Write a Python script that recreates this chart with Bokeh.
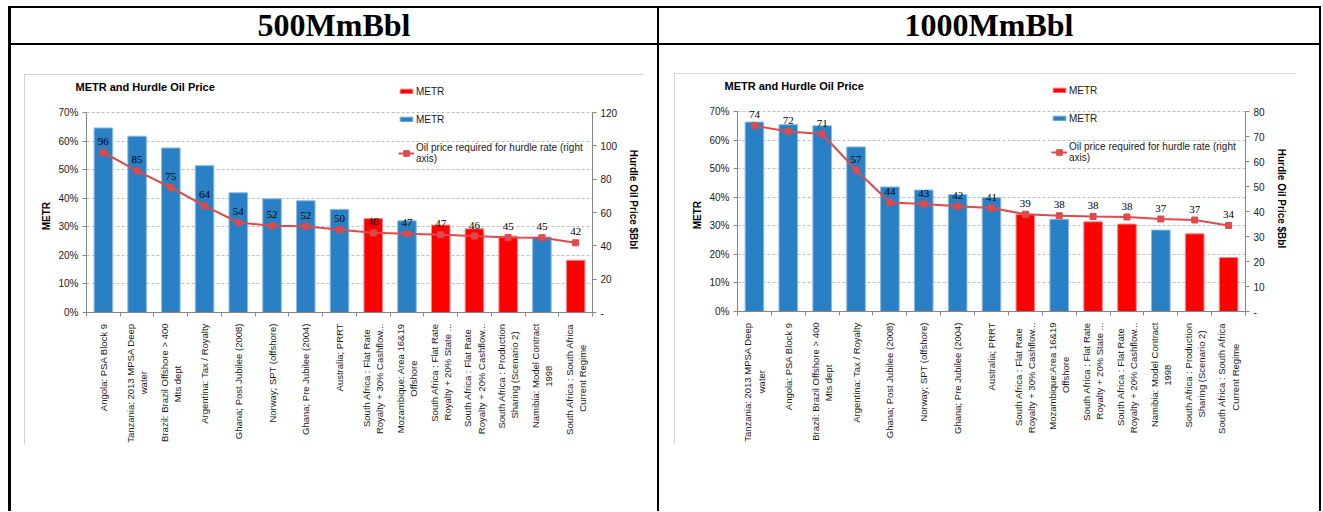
import math
from bokeh.plotting import figure
from bokeh.models import (ColumnDataSource, Range1d, FactorRange, LinearAxis, FixedTicker,
                          NumeralTickFormatter, Legend, LegendItem, LabelSet, Label, Div, Spacer,
                          CustomLabelingPolicy)
from bokeh.layouts import row, column
from bokeh.embed import file_html
from bokeh.resources import INLINE

# ---------------- data ----------------
headers = ["500MmBbl", "1000MmBbl"]
chart_title = "METR and Hurdle Oil Price"
series_bar = "METR"
series_line = "Oil price required for hurdle rate (right\naxis)"
left_axis_title = "METR"
right_axis_title = "Hurdle Oil Price $Bbl"

labels_500 = [
    "Angola: PSA Block 9",
    "Tanzania: 2013 MPSA Deep\nwater",
    "Brazil: Brazil Offshore > 400\nMts dept",
    "Argentina: Tax / Royalty",
    "Ghana; Post Jubilee (2008)",
    "Norway; SPT (offshore)",
    "Ghana; Pre Jubilee (2004)",
    "Australia; PRRT",
    "South Africa : Flat Rate\nRoyalty + 30% Cashflow...",
    "Mozambique: Area 16&19\nOffshore",
    "South Africa : Flat Rate\nRoyalty + 20% State ...",
    "South Africa : Flat Rate\nRoyalty + 20% Cashflow...",
    "South Africa : Production\nSharing (Scenario 2)",
    "Namibia: Model Contract\n1998",
    "South Africa : South Africa\nCurrent Regime",
]
metr_500 = [0.646, 0.617, 0.576, 0.514, 0.419, 0.398, 0.391, 0.361, 0.329,
            0.321, 0.306, 0.293, 0.267, 0.264, 0.183]
group_500 = ["other", "other", "other", "other", "other", "other", "other", "other",
             "sa", "other", "sa", "sa", "sa", "other", "sa"]
price_500 = [96, 85, 75, 64, 54, 52, 51.8, 49.7, 47.8, 47.3, 46.7, 45.9, 45.0, 44.9, 41.8]

labels_1000 = [
    "Tanzania: 2013 MPSA Deep\nwater",
    "Angola: PSA Block 9",
    "Brazil: Brazil Offshore > 400\nMts dept",
    "Argentina: Tax / Royalty",
    "Ghana; Post Jubilee (2008)",
    "Norway; SPT (offshore)",
    "Ghana; Pre Jubilee (2004)",
    "Australia; PRRT",
    "South Africa : Flat Rate\nRoyalty + 30% Cashflow...",
    "Mozambique:Area 16&19\nOffshore",
    "South Africa : Flat Rate\nRoyalty + 20% State ...",
    "South Africa : Flat Rate\nRoyalty + 20% Cashflow...",
    "Namibia: Model Contract\n1998",
    "South Africa : Production\nSharing (Scenario 2)",
    "South Africa : South Africa\nCurrent Regime",
]
metr_1000 = [0.663, 0.654, 0.650, 0.576, 0.436, 0.425, 0.409, 0.399, 0.340,
             0.323, 0.314, 0.306, 0.285, 0.272, 0.189]
group_1000 = ["other", "other", "other", "other", "other", "other", "other", "other",
              "sa", "other", "sa", "sa", "other", "sa", "sa"]
price_1000 = [74.3, 72.0, 71.0, 56.6, 43.6, 43.0, 42.1, 41.4, 38.9, 38.3, 38.0, 37.8, 37.0, 36.6, 34.4]

pct_ticks = [0.0, 0.1, 0.2, 0.3, 0.4, 0.5, 0.6, 0.7]
price_ticks_500 = [0, 20, 40, 60, 80, 100, 120]
price_ticks_1000 = [0, 10, 20, 30, 40, 50, 60, 70, 80]

# ---------------- style ----------------
BLUE = "#2A80C4"
BLUE_EDGE = "#8CBBE4"
RED = "#FF0000"
RED_EDGE = "#FF8A8A"
LINE = "#DF4A4C"
FONT = "Liberation Sans"
TXT = "#1A1A1A"
AXIS = "#868686"

PLOT_H = 200      # height of the 0..70% area
HEAD_H = 26       # extra frame room above 70% (legend / labels)
FRAME_H = PLOT_H + HEAD_H
NBSP = "\u00a0"

# approximate Arial / Liberation Sans advance widths (1/1000 em), used to centre
# the shorter line of a two-line (right-aligned) rotated tick label
_W = {}
for _chars, _w in [("ijl", 222), (" !,./:;I[]ft", 278), ("r()-", 333), ("*", 389),
                   ("Jcksvxyz", 500), ("0123456789abdeghnopquL?$_#", 556), ("+<>=", 584),
                   ("FTZ", 611), ("ABEKPSVXY&", 667), ("CDHNRUw", 722), ("GOQ", 778),
                   ("Mm", 833), ("%", 889), ("W", 944)]:
    for _c in _chars:
        _W[_c] = _w


def centred(label):
    lines = label.split("\n")
    if len(lines) == 1:
        return label
    widths = [sum(_W.get(c, 556) for c in ln) for ln in lines]
    wmax = max(widths)
    return "\n".join(ln + NBSP * int(round((wmax - w) / 2 / 278)) for ln, w in zip(lines, widths))


def make_chart(raw_labels, metr, group, price, price_ticks, frame_w, border_l, border_top,
               legend_x, title_dx):
    labels = [centred(l) for l in raw_labels]
    scale = FRAME_H / PLOT_H
    p = figure(x_range=FactorRange(factors=labels),
               y_range=Range1d(0, pct_ticks[-1] * scale),
               frame_width=frame_w, frame_height=FRAME_H,
               min_border_left=border_l, min_border_right=51, min_border_top=border_top,
               min_border_bottom=132,
               output_backend="svg", toolbar_location=None,
               styles={"outline": "1px solid #C4C4C4", "outline-offset": "-1px"})
    p.extra_y_ranges = {"price": Range1d(0, price_ticks[-1] * scale)}
    p.outline_line_color = None
    p.background_fill_color = "white"
    p.border_fill_color = "white"

    p.add_layout(Label(text=chart_title, x=title_dx, y=0, x_units="screen", y_units="screen",
                       text_font=FONT, text_font_size="11px", text_font_style="bold",
                       text_color="#000000", text_baseline="middle", text_align="left"), "above")

    sa = ColumnDataSource(dict(x=[l for l, g in zip(labels, group) if g == "sa"],
                               top=[m for m, g in zip(metr, group) if g == "sa"]))
    ot = ColumnDataSource(dict(x=[l for l, g in zip(labels, group) if g != "sa"],
                               top=[m for m, g in zip(metr, group) if g != "sa"]))
    r_sa = p.vbar(x="x", top="top", width=0.55, source=sa, fill_color=RED,
                  line_color=RED_EDGE, line_width=1)
    r_ot = p.vbar(x="x", top="top", width=0.55, source=ot, fill_color=BLUE,
                  line_color=BLUE_EDGE, line_width=1)

    ls = ColumnDataSource(dict(x=labels, y=price, lbl=[f"{v:.0f}" for v in price]))
    r_line = p.line("x", "y", source=ls, y_range_name="price", line_color=LINE, line_width=2)
    r_pts = p.scatter("x", "y", source=ls, y_range_name="price", marker="square", size=6,
                      fill_color=LINE, line_color=LINE)
    p.add_layout(LabelSet(x="x", y="y", text="lbl", source=ls, y_range_name="price",
                          y_offset=11, text_align="center", text_baseline="middle",
                          text_font_size="11px", text_font=FONT, text_color="#000000"))

    # axes
    xa = p.xaxis[0]
    ax_l = p.yaxis[0]
    ax_l.ticker = FixedTicker(ticks=pct_ticks)
    ax_l.formatter = NumeralTickFormatter(format="0%")
    ax_l.axis_label = left_axis_title + NBSP * 12
    ax_l.bounds = (pct_ticks[0], pct_ticks[-1])
    ax_r = LinearAxis(y_range_name="price", ticker=FixedTicker(ticks=price_ticks),
                      major_label_overrides={0: "-"}, axis_label=right_axis_title,
                      bounds=(price_ticks[0], price_ticks[-1]))
    p.add_layout(ax_r, "right")
    for ax in (ax_l, ax_r):
        ax.axis_line_color = AXIS
        ax.major_tick_line_color = AXIS
        ax.major_tick_out = 4
        ax.major_tick_in = 0
        ax.minor_tick_line_color = None
        ax.major_label_text_font = FONT
        ax.major_label_text_font_size = "10px"
        ax.major_label_text_color = TXT
        ax.major_label_standoff = 4
        ax.axis_label_text_font = FONT
        ax.axis_label_text_font_size = "10px"
        ax.axis_label_text_font_style = "bold"
        ax.axis_label_text_color = "#000000"
    ax_l.axis_label_standoff = 3
    ax_r.axis_label_standoff = 8

    # category-boundary tick marks (synthetic category coordinates), nearest to the frame;
    # its labels are suppressed by the labeling policy
    ax_b = LinearAxis(ticker=FixedTicker(ticks=list(range(len(labels) + 1))),
                      axis_line_color=AXIS, major_tick_line_color=AXIS, major_tick_out=4,
                      major_tick_in=0, minor_tick_line_color=None,
                      major_label_text_font_size="0px", major_label_standoff=0,
                      major_label_policy=CustomLabelingPolicy(code="return []"))
    p.below.insert(0, ax_b)

    xa.axis_line_color = None
    xa.major_tick_line_color = None
    xa.minor_tick_line_color = None
    xa.major_label_orientation = math.pi / 2
    xa.major_label_text_font = FONT
    xa.major_label_text_font_size = "9.5px"
    xa.major_label_text_color = TXT
    xa.major_label_standoff = 1

    p.xgrid.visible = False
    p.ygrid.grid_line_color = "#BFBFBF"
    p.ygrid.grid_line_dash = "3 2"
    p.ygrid.grid_line_width = 1

    common = dict(padding=0, margin=0, border_line_color=None, background_fill_alpha=0,
                  label_standoff=2, label_text_font_size="10px", label_text_font=FONT,
                  label_text_color=TXT, glyph_width=16, label_height=20,
                  label_text_line_height=1.1)
    leg1 = Legend(items=[LegendItem(label=series_bar, renderers=[r_sa]),
                         LegendItem(label=series_bar, renderers=[r_ot])],
                  location=(legend_x, 183), glyph_height=6, spacing=8, **common)
    leg2 = Legend(items=[LegendItem(label=series_line, renderers=[r_line, r_pts])],
                  location=(legend_x, 148), glyph_height=14, **common)
    p.add_layout(leg1)
    p.add_layout(leg2)
    return p


fig1 = make_chart(labels_500, metr_500, group_500, price_500, price_ticks_500,
                  506, 62, 7, 312, -11)
fig2 = make_chart(labels_1000, metr_1000, group_1000, price_1000, price_ticks_1000,
                  508, 63, 8, 314, -13)

# ---------------- table layout ----------------
BLACK = {"background-color": "black"}


def hline(w):
    return Div(text="", width=w, height=2, margin=0, styles=BLACK)


def vline(h, w=2):
    return Div(text="", width=w, height=h, margin=0, styles=BLACK)


hstyle = {"font-family": "'Liberation Serif', 'Times New Roman', serif", "font-weight": "bold",
          "font-size": "32px", "line-height": "35px", "text-align": "center", "color": "black"}
head1 = Div(text=headers[0], width=646, height=35, margin=0, styles=hstyle)
head2 = Div(text=headers[1], width=660, height=35, margin=0, styles=hstyle)

cell1 = column(Spacer(width=646, height=29), row(Spacer(width=13, height=10), fig1))
cell2 = column(Spacer(width=660, height=28), row(Spacer(width=15, height=10), fig2))

table = column(
    Spacer(width=10, height=6),
    hline(1313),
    row(vline(35, 3), head1, vline(35), head2, vline(35)),
    hline(1313),
    row(vline(466, 3), cell1, vline(466), cell2, vline(466)),
)
layout = row(Spacer(width=8, height=10), table)

open("out.html", "w").write(file_html(layout, INLINE))
